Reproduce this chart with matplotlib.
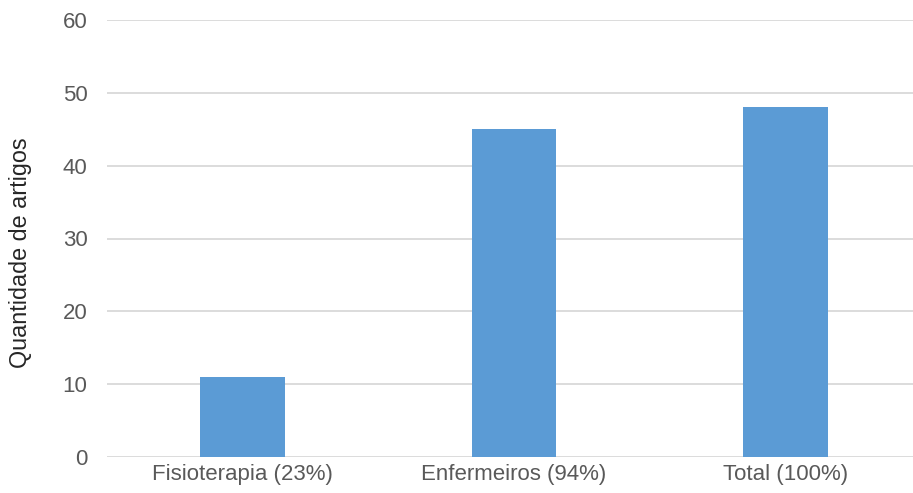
import matplotlib
matplotlib.use("Agg")
import matplotlib.pyplot as plt

# Dados do gráfico
categorias = ["Fisioterapia (23%)", "Enfermeiros (94%)", "Total (100%)"]
quantidades = [11, 45, 48]
yticks = [0, 10, 20, 30, 40, 50, 60]

plt.rcParams["font.family"] = ["Liberation Sans", "DejaVu Sans"]

fig = plt.figure(figsize=(9.13, 4.93), dpi=100)
ax = fig.add_axes([107 / 913, 36 / 493, 814 / 913, 437 / 493])

ax.bar(range(len(categorias)), quantidades, width=0.313, color="#5b9bd5", zorder=3)

ax.set_xlim(-0.5, 2.5)
ax.set_ylim(0, 60)
ax.set_yticks(yticks)
ax.set_xticks(range(len(categorias)))
ax.set_xticklabels(categorias)

ax.grid(axis="y", color="#d9d9d9", linewidth=1.3, zorder=0)
for s in ax.spines.values():
    s.set_visible(False)
ax.tick_params(axis="both", length=0, labelsize=16, colors="#595959")
ax.tick_params(axis="y", pad=14)
ax.tick_params(axis="x", pad=5)

ax.set_ylabel("Quantidade de artigos", fontsize=16.8, color="#262626")
ax.yaxis.set_label_coords(-0.092, 0.467)

fig.savefig("out.png", dpi=100)
